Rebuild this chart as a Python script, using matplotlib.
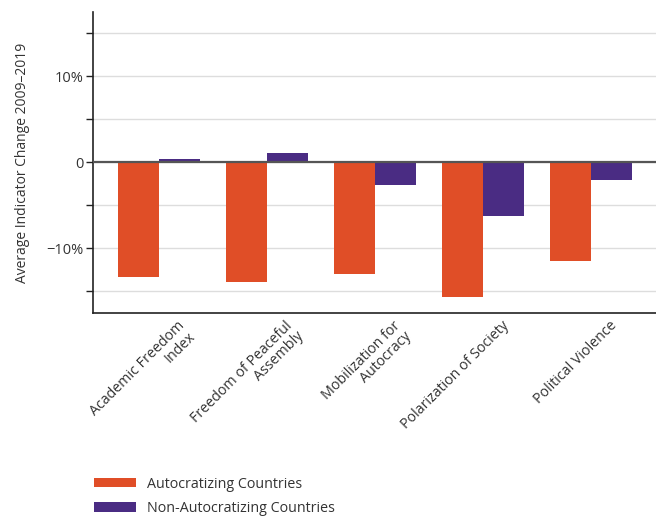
import numpy as np
import matplotlib.pyplot as plt
from matplotlib.transforms import ScaledTranslation

plt.rcParams['font.family'] = ['Open Sans', 'DejaVu Sans']

categories = ['Academic Freedom\nIndex', 'Freedom of Peaceful\nAssembly',
              'Mobilization for\nAutocracy', 'Polarization of Society',
              'Political Violence']
autocratizing = [-13.3, -13.9, -13.0, -15.7, -11.5]
non_autocratizing = [0.45, 1.05, -2.6, -6.2, -2.05]
yticks = [-15, -10, -5, 0, 5, 10, 15]
ytick_labels = ['', '\u221210%', '', '0', '', '10%', '']

orange = '#e04e27'
purple = '#4a2c83'
text_col = '#333333'

fig = plt.figure(figsize=(6.56, 5.18), dpi=100)
ax = fig.add_axes([0.142, 0.396, 0.86, 0.581])

x = np.arange(len(categories))
w = 0.38
ax.bar(x - w / 2, autocratizing, w, color=orange, label='Autocratizing Countries', zorder=2)
ax.bar(x + w / 2, non_autocratizing, w, color=purple, label='Non-Autocratizing Countries', zorder=2)

ax.axhline(0, color='#555555', lw=1.6, zorder=3)
ax.set_xlim(-0.61, len(categories) - 0.39)
ax.set_ylim(-17.5, 17.5)
ax.set_yticks(yticks)
ax.set_yticklabels(ytick_labels, fontsize=10.5, color=text_col)
ax.grid(axis='y', color='#dddddd', lw=1, zorder=0)

ax.set_xticks(x)
ax.set_xticklabels(categories, rotation=45, ha='right', rotation_mode='anchor',
                   fontsize=10.3, color=text_col, multialignment='right',
                   linespacing=1.0)
ax.tick_params(axis='x', length=0, pad=4)
ax.tick_params(axis='y', length=5, width=1, color='#222222', pad=2)
shift = ScaledTranslation(18 / 100, 0, fig.dpi_scale_trans)
for lab in ax.get_xticklabels():
    lab.set_transform(lab.get_transform() + shift)

for s in ['top', 'right']:
    ax.spines[s].set_visible(False)
for s in ['left', 'bottom']:
    ax.spines[s].set_color('#222222')
    ax.spines[s].set_linewidth(1.2)

ax.set_ylabel('Average Indicator Change 2009\u20132019', fontsize=10, color=text_col, labelpad=12)

fig.legend(loc='lower left', bbox_to_anchor=(0.124, -0.021), frameon=False, fontsize=10.3,
           handlelength=2.9, handleheight=0.6, labelspacing=0.66, handletextpad=0.8,
           labelcolor=text_col)

fig.savefig('out.png', dpi=100)
